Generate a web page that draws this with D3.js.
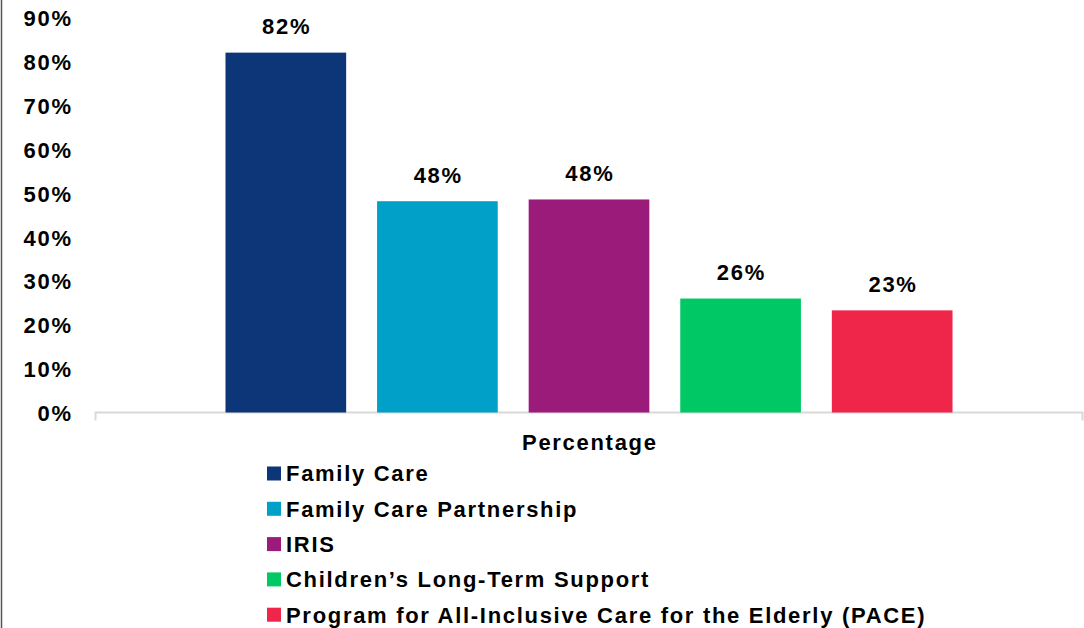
<!DOCTYPE html>
<html><head><meta charset="utf-8">
<script src="https://cdn.jsdelivr.net/npm/d3@7"></script>
<style>html,body{margin:0;padding:0;background:#fff;}svg{display:block;}</style>
</head><body>
<svg id="chart" width="1084" height="628"></svg>
<script>
const categories = ["Percentage"];
const series = ["Family Care", "Family Care Partnership", "IRIS", "Children\u2019s Long-Term Support", "Program for All-Inclusive Care for the Elderly (PACE)"];
const values = [0.821, 0.482, 0.486, 0.26, 0.233];
const valueLabels = ["82%", "48%", "48%", "26%", "23%"];
const colors = ["#0c3677", "#00a0c8", "#9b1b7b", "#00c864", "#ef2549"];
const yTicks = [0, 0.1, 0.2, 0.3, 0.4, 0.5, 0.6, 0.7, 0.8, 0.9];

const svg = d3.select("#chart");
const font = "'Liberation Sans', Arial, sans-serif";
const LS = 1.7;
function styleText(sel){
  sel.attr("font-family",font).attr("font-weight","bold").attr("font-size","22px")
     .attr("letter-spacing", LS + "px").attr("fill","#000");
}

// left border
svg.append("line").attr("x1",1.5).attr("x2",1.5).attr("y1",0).attr("y2",628)
  .attr("stroke","#555").attr("stroke-width",1.5);

const y = d3.scaleLinear().domain([0, 0.9]).range([412.5, 18]);
const x0 = d3.scaleBand().domain(categories).range([95, 1083]).paddingInner(0).paddingOuter(0.1795);
const x1 = d3.scaleBand().domain(series).range([0, x0.bandwidth()]).paddingInner(0.204).paddingOuter(0);

// y tick labels
const yAxis = svg.append("g").attr("transform",`translate(${71 + LS},0)`)
  .call(d3.axisLeft(y).tickValues(yTicks).tickFormat(d3.format(".0%")).tickSize(0).tickPadding(0));
yAxis.select(".domain").remove();
yAxis.selectAll("text").call(styleText).attr("dy","0.36em");

// x axis
const xAxis = svg.append("g").attr("transform","translate(0,412.5)")
  .call(d3.axisBottom(x0).tickSize(0).tickPadding(0).tickFormat(""));
xAxis.select(".domain").attr("stroke","#d9d9d9").attr("stroke-width",2)
  .attr("d", "M95.5,8V0H1082.5V8");
xAxis.selectAll(".tick").remove();
svg.append("text").attr("x", x0("Percentage")+x0.bandwidth()/2 + LS/2).attr("y",450)
  .attr("text-anchor","middle").call(styleText).text(categories[0]);

// bars
const g = svg.append("g").attr("transform",`translate(${x0("Percentage")},0)`);
g.selectAll("rect").data(series).join("rect")
  .attr("x", d => x1(d)).attr("width", x1.bandwidth())
  .attr("y", (d,i) => y(values[i])).attr("height", (d,i) => y(0) - y(values[i]))
  .attr("fill", (d,i) => colors[i]);
g.selectAll("text.lbl").data(series).join("text").attr("class","lbl")
  .attr("x", d => x1(d) + x1.bandwidth()/2 + LS/2)
  .attr("y", (d,i) => y(values[i]) - 18.5)
  .attr("text-anchor","middle").call(styleText).text((d,i)=>valueLabels[i]);

// legend
const leg = svg.append("g").attr("transform","translate(267,466.5)");
const rows = leg.selectAll("g").data(series).join("g")
  .attr("transform",(d,i)=>`translate(0,${i*35.3})`);
rows.append("rect").attr("width",14).attr("height",14).attr("fill",(d,i)=>colors[i]);
rows.append("text").attr("x",19).attr("y",14.8).call(styleText).text(d=>d);
</script>
</body></html>
